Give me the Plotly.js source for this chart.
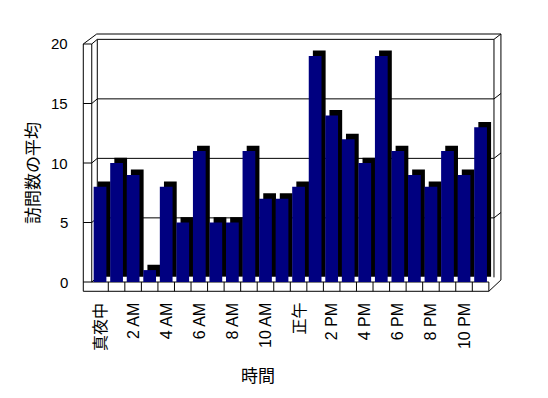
<!DOCTYPE html>
<html>
<head>
<meta charset="utf-8">
<script src="https://cdn.plot.ly/plotly-3.0.1.min.js"></script>
<style>html,body{margin:0;padding:0;background:#fff;}#chart{width:548px;height:398px;}</style>
</head>
<body>
<div id="chart"></div>
<script>
// ---- data ----
var hours = [0,1,2,3,4,5,6,7,8,9,10,11,12,13,14,15,16,17,18,19,20,21,22,23];
var visits = [8,10,9,1,8,5,11,5,5,11,7,7,8,19,14,12,10,19,11,9,8,11,9,13];
var tickHours = [0,2,4,6,8,10,12,14,16,18,20,22];
var tickLabels = ['真夜中','2 AM','4 AM','6 AM','8 AM','10 AM','正午','2 PM','4 PM','6 PM','8 PM','10 PM'];
var yTicks = [0,5,10,15,20];
var xTitle = '時間';
var yTitle = '訪問数の平均';

// ---- style constants (3D look) ----
var FONT = '"Liberation Sans", Arial, "Noto Sans CJK JP", sans-serif';
var BAR_W = 0.77, SH_DX = 0.25, SH_DY = 0.45;   // bar shadow depth (axis units)
var WALL_DX = 0.335, WALL_DY = 0.39;            // back wall depth
var LEFT = -1.011, FLOOR = -0.78, XMAX = 23.5;
var BACK_L = -0.5 + WALL_DX, BACK_R = 23.81, OUT_R = 24.23, TOP_OUT = 20.84;

function ln(x0,y0,x1,y1){
  return {type:'line', xref:'x', yref:'y', x0:x0, y0:y0, x1:x1, y1:y1,
          line:{color:'#000', width:1}, layer:'below'};
}
var shapes = [];
// floor
shapes.push(ln(LEFT, FLOOR, XMAX, FLOOR));
shapes.push(ln(-0.5, 0, XMAX, 0));
for (var k = 0; k < hours.length; k++) shapes.push(ln(hours[k]+0.5, FLOOR, hours[k]+0.5, 0));
shapes.push(ln(XMAX, FLOOR, OUT_R, 0.17));
// left side wall
shapes.push(ln(LEFT, FLOOR, LEFT, 20));
shapes.push(ln(-0.5, 0, -0.5, 20));
shapes.push(ln(BACK_L, WALL_DY, BACK_L, 20+WALL_DY));
shapes.push(ln(LEFT, 20, -0.2, TOP_OUT));
// top / right
shapes.push(ln(-0.2, TOP_OUT, OUT_R, TOP_OUT));
shapes.push(ln(BACK_R, WALL_DY, BACK_R, 20+WALL_DY));
shapes.push(ln(OUT_R, 0.17, OUT_R, TOP_OUT));
// gridlines on back wall + connectors
yTicks.forEach(function(v){
  shapes.push(ln(LEFT, v, -0.5, v));
  shapes.push(ln(-0.5, v, BACK_L, v+WALL_DY));
  if (v > 0) {
    shapes.push(ln(BACK_L, v+WALL_DY, BACK_R, v+WALL_DY));
    shapes.push(ln(BACK_R, v+WALL_DY, OUT_R, v+WALL_DY+0.45));
  }
});

var shadow = {
  type:'bar', x:hours, y:visits, base:SH_DY, width:BAR_W, offset:-BAR_W/2+SH_DX,
  marker:{color:'#000', line:{width:0}}, hoverinfo:'skip', showlegend:false
};
var bars = {
  type:'bar', x:hours, y:visits, width:BAR_W,
  marker:{color:'#000080', line:{width:0}}, showlegend:false
};

var annotations = [
  {text:yTitle, xref:'paper', yref:'paper', x:-0.1106, y:0.4624, xanchor:'center', yanchor:'middle',
   textangle:-90, showarrow:false, font:{size:17, family:FONT}},
  {text:xTitle, xref:'paper', yref:'paper', x:0.4188, y:-0.3045, xanchor:'center', yanchor:'middle',
   showarrow:false, font:{size:17, family:FONT}}
];
tickHours.forEach(function(h, i){
  annotations.push({text:tickLabels[i], xref:'x', yref:'paper', x:h, y:-0.0226,
    xanchor:'center', yanchor:'top', textangle:-90, showarrow:false,
    borderpad:0, font:{size:16, family:FONT}});
});
yTicks.forEach(function(v){
  annotations.push({text:String(v), xref:'paper', yref:'y', x:-0.0259, y:v,
    xanchor:'right', yanchor:'middle', showarrow:false, borderpad:0,
    font:{size:15, family:FONT}});
});

var layout = {
  width:548, height:398,
  margin:{l:80, r:43, t:30, b:102},
  paper_bgcolor:'#fff', plot_bgcolor:'rgba(0,0,0,0)',
  barmode:'overlay',
  font:{family:FONT, color:'#000', size:15},
  xaxis:{range:[-1.21, 24.476], showgrid:false, zeroline:false, showline:false,
         showticklabels:false, ticks:''},
  yaxis:{range:[-1.176, 21.176], showgrid:false, zeroline:false, showline:false,
         showticklabels:false, ticks:'', tickvals:yTicks},
  shapes:shapes,
  annotations:annotations
};
Plotly.newPlot('chart', [shadow, bars], layout, {displayModeBar:false, staticPlot:true});
</script>
</body>
</html>
